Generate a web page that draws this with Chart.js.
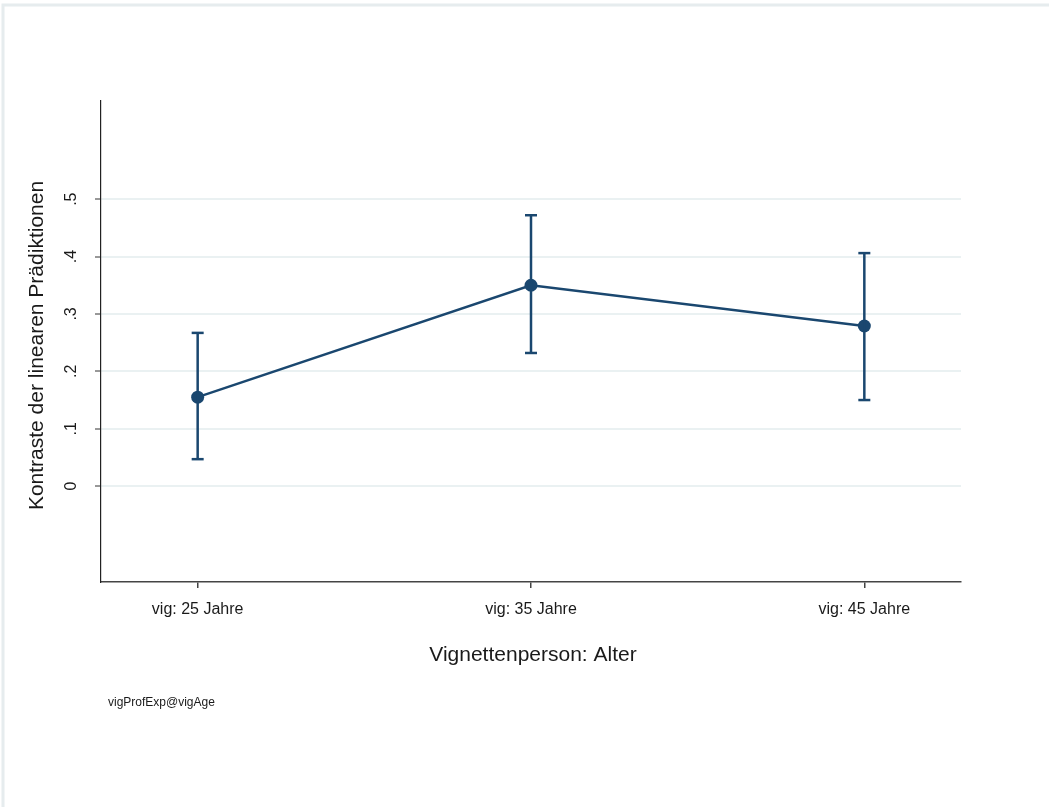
<!DOCTYPE html>
<html>
<head>
<meta charset="utf-8">
<script src="https://cdn.jsdelivr.net/npm/chart.js@4/dist/chart.umd.min.js"></script>
<style>
  html, body { margin: 0; padding: 0; background: #fff; }
  #wrap { width: 1049px; height: 807px; position: relative; }
</style>
</head>
<body>
<div id="wrap"><canvas id="marginsChart" width="1049" height="807"></canvas></div>
<script>
const categories = ['vig: 25 Jahre', 'vig: 35 Jahre', 'vig: 45 Jahre'];
const estimates = [0.155, 0.350, 0.279];
const ciLower = [0.047, 0.232, 0.150];
const ciUpper = [0.267, 0.472, 0.406];
const yTicks = [0, 0.1, 0.2, 0.3, 0.4, 0.5];
const yTickLabels = ['0', '.1', '.2', '.3', '.4', '.5'];
const NAVY = '#1a476f';
const FONT = 'Liberation Sans, Arial, sans-serif';

// error bars as one dataset, broken by null points
const ciPoints = [];
categories.forEach((c, i) => {
  ciPoints.push({ x: i, y: ciLower[i] });
  ciPoints.push({ x: i, y: ciUpper[i] });
  ciPoints.push({ x: i, y: null });
});

const extraDraw = {
  id: 'extraDraw',
  beforeDraw(chart) {
    const ctx = chart.ctx;
    ctx.save();
    ctx.fillStyle = '#fff';
    ctx.fillRect(0, 0, chart.width, chart.height);
    ctx.strokeStyle = '#e6ecee';
    ctx.lineWidth = 3;
    ctx.beginPath();
    ctx.moveTo(3, chart.height + 5);
    ctx.lineTo(3, 5);
    ctx.lineTo(chart.width + 5, 5);
    ctx.stroke();
    ctx.restore();
  },
  afterDraw(chart) {
    const ctx = chart.ctx;
    const y = chart.scales.y;
    const area = chart.chartArea;
    ctx.save();
    ctx.fillStyle = '#1a1a1a';
    // rotated y tick labels
    ctx.font = '16px ' + FONT;
    ctx.textAlign = 'center';
    ctx.textBaseline = 'middle';
    yTicks.forEach((v, i) => {
      ctx.save();
      ctx.translate(72, y.getPixelForValue(v));
      ctx.rotate(-Math.PI / 2);
      ctx.fillText(yTickLabels[i], 0, 0);
      ctx.restore();
    });
    // y title
    ctx.font = '21px ' + FONT;
    ctx.save();
    ctx.translate(37, (area.top + area.bottom) / 2 + 4);
    ctx.rotate(-Math.PI / 2);
    ctx.fillText('Kontraste der linearen Prädiktionen', 0, 0);
    ctx.restore();
    // x title
    ctx.fillText('Vignettenperson: Alter', (area.left + area.right) / 2 + 2, 655);
    // footnote
    ctx.font = '12px ' + FONT;
    ctx.textAlign = 'left';
    ctx.fillText('vigProfExp@vigAge', 108, 703);
    ctx.restore();
  }
};

new Chart(document.getElementById('marginsChart'), {
  type: 'scatter',
  data: {
    datasets: [
      {
        label: 'CI',
        data: ciPoints,
        showLine: true,
        spanGaps: false,
        borderColor: NAVY,
        borderWidth: 2.5,
        pointStyle: 'line',
        pointRadius: 6,
        pointBorderWidth: 2.5,
        pointBorderColor: NAVY,
        pointBackgroundColor: NAVY
      },
      {
        label: 'Kontrast',
        data: estimates.map((v, i) => ({ x: i, y: v })),
        showLine: true,
        borderColor: NAVY,
        borderWidth: 2.5,
        pointRadius: 6.5,
        pointBackgroundColor: NAVY,
        pointBorderColor: NAVY,
        pointBorderWidth: 0
      }
    ]
  },
  options: {
    responsive: false,
    animation: false,
    layout: { padding: { top: 101, right: 88, left: 0, bottom: 0 } },
    plugins: {
      legend: { display: false },
      tooltip: { enabled: false }
    },
    scales: {
      x: {
        type: 'linear',
        min: -0.29,
        max: 2.29,
        afterBuildTicks: s => { s.ticks = categories.map((c, i) => ({ value: i })); },
        afterFit: s => { s.height = 225; },
        grid: { drawOnChartArea: false, drawTicks: true, tickLength: 6, tickColor: '#444', lineWidth: 1.5 },
        border: { display: true, color: '#444', width: 1.5 },
        ticks: {
          padding: 12,
          color: '#1a1a1a',
          font: { family: FONT, size: 16 },
          maxRotation: 0,
          callback: v => categories[v]
        }
      },
      y: {
        min: -0.167,
        max: 0.671,
        afterBuildTicks: s => { s.ticks = yTicks.map(v => ({ value: v })); },
        afterFit: s => { s.width = 101; },
        grid: { color: '#eaf1f2', lineWidth: 2, drawTicks: true, tickLength: 6, tickColor: '#333', tickWidth: 1 },
        border: { display: true, color: '#222', width: 1.2 },
        ticks: { display: false }
      }
    }
  },
  plugins: [extraDraw]
});
</script>
</body>
</html>
